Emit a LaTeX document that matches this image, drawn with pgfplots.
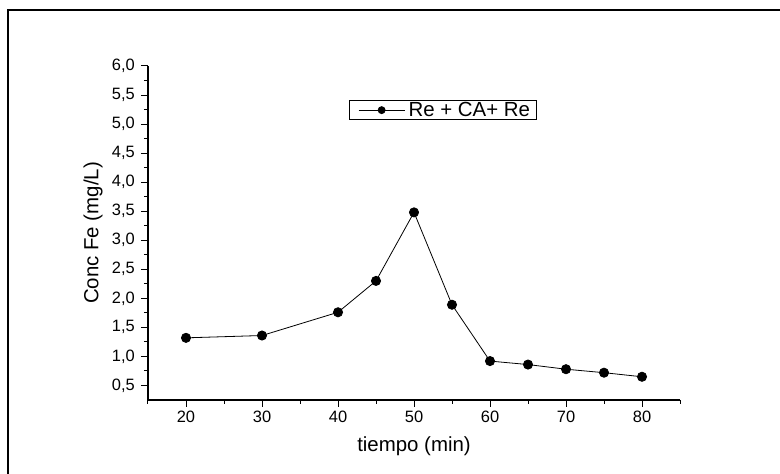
\documentclass[border=0pt]{standalone}
\usepackage{pgfplots}
\pgfplotsset{compat=1.18}
\usepackage{fontspec}
\setmainfont{Liberation Sans}
\begin{document}
\begin{tikzpicture}[x=1bp,y=1bp]
\useasboundingbox (-148,-74) rectangle (632,400);
\draw[line width=2bp] (-140,-80) -- (-140,390) -- (640,390);
\begin{axis}[
  at={(0,0)}, anchor=south west,
  scale only axis, width=532bp, height=334bp,
  xmin=15, xmax=85, ymin=0.25, ymax=6.0,
  axis x line*=bottom, axis y line*=left,
  axis line style={-, line width=1.1bp},
  xtick={20,30,...,80}, minor xtick={15,25,...,85},
  ytick={0.5,1.0,...,6.0}, minor ytick={0.75,1.25,...,5.75},
  tick align=outside, major tick length=7bp, minor tick length=4bp,
  every tick/.style={black, line width=1bp},
  /pgf/number format/assume math mode=true,
  tick label style={font=\fontsize{16.5}{18}\selectfont},
  yticklabel style={/pgf/number format/fixed, /pgf/number format/fixed zerofill, /pgf/number format/precision=1, /pgf/number format/use comma, xshift=-4bp, inner sep=2bp},
  xticklabel style={yshift=-2bp, inner sep=2bp},
  xlabel={tiempo (min)}, ylabel={Conc Fe (mg/L)},
  every axis x label/.style={at={(axis description cs:0.5,-0.1398)}, anchor=center, font=\fontsize{20.5}{22}\selectfont},
  every axis y label/.style={at={(axis description cs:-0.1034,0.5)}, anchor=center, rotate=90, font=\fontsize{20.5}{22}\selectfont},
  legend style={at={(axis cs:53.8,5.24)}, anchor=center, draw=black, line width=0.8bp,
    font=\fontsize{20.5}{22}\selectfont, inner xsep=3bp, inner ysep=0bp,
    nodes={inner xsep=3.5bp, inner ysep=1.5bp}},
  legend image code/.code={\path (-6bp,0bp); \draw[mark repeat=2,mark phase=2,#1, mark size=3.5bp] plot coordinates {(0bp,0bp) (23bp,0bp) (46bp,0bp)};},
]
\addplot[black, line width=0.8bp, mark=*, mark size=4.6bp] coordinates {
(20,1.32) (30,1.36) (40,1.76) (45,2.30) (50,3.48) (55,1.89)
(60,0.92) (65,0.86) (70,0.78) (75,0.72) (80,0.65)};
\addlegendentry{Re + CA+ Re}
\end{axis}
\end{tikzpicture}
\end{document}
